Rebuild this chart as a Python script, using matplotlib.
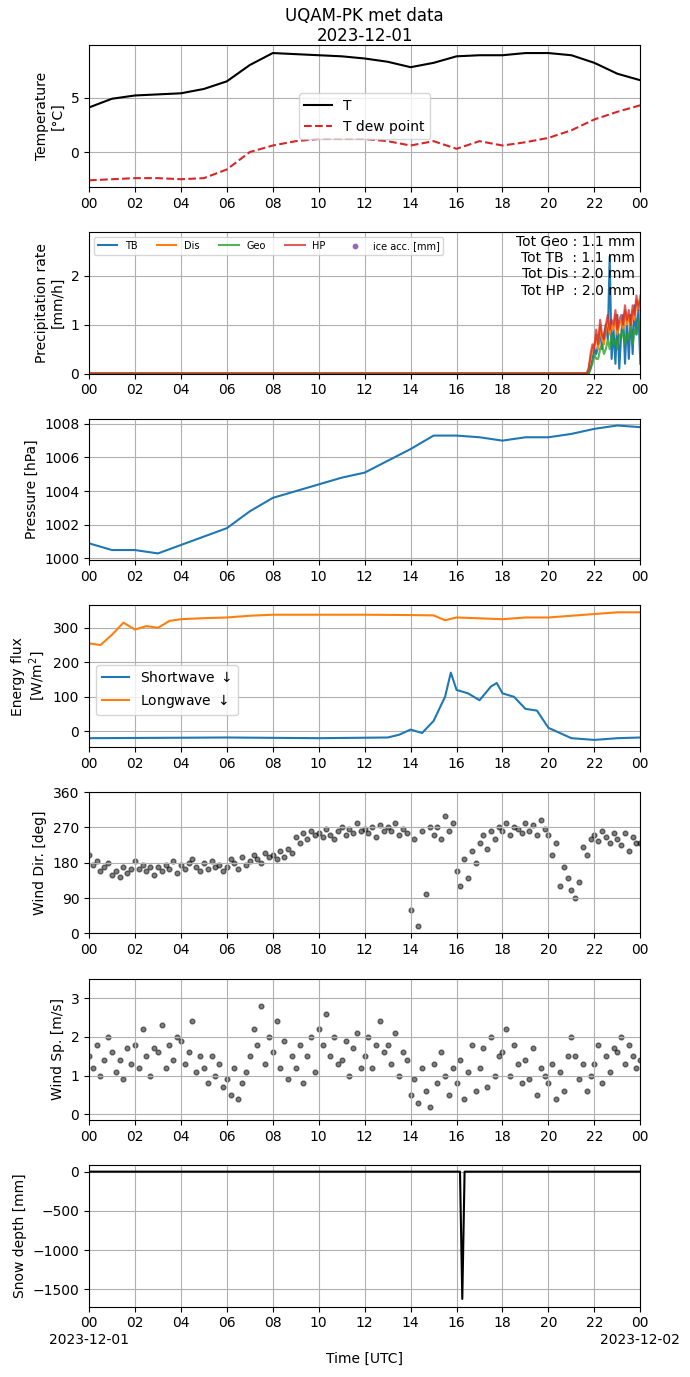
import matplotlib
matplotlib.use("Agg")
import matplotlib.pyplot as plt
import matplotlib.dates as mdates
import matplotlib.ticker as mticker
import numpy as np
from datetime import datetime, timedelta

t0 = datetime(2023, 12, 1)

# hourly temperature
temp_hours = list(range(25))
temp_T = [4.1, 4.9, 5.2, 5.3, 5.4, 5.8, 6.5, 8.0, 9.1, 9.0, 8.9, 8.8, 8.6, 8.3, 7.8, 8.2, 8.8, 8.9, 8.9, 9.1, 9.1, 8.9, 8.2, 7.2, 6.6]
temp_Td = [-2.6, -2.5, -2.4, -2.4, -2.5, -2.4, -1.6, 0.0, 0.6, 1.0, 1.2, 1.2, 1.2, 1.0, 0.6, 1.0, 0.3, 1.0, 0.6, 0.9, 1.3, 2.0, 3.0, 3.7, 4.3]

# precipitation, 5 min steps from 21:30
precip_start = 21.5
prec_TB = [0, 0, 0, 0, 0.1, 0.3, 0.5, 0.4, 0.6, 0.9, 0.5, 0.8, 1.0, 0.7, 2.4, 0.3, 0.9, 0.2, 1.2, 0.1, 0.8, 1.2, 0.2, 1.1, 0.3, 1.2, 0.4, 1.4, 0.8, 1.3, 0.2]
prec_Dis = [0, 0, 0, 0.1, 0.3, 0.5, 0.6, 0.8, 0.5, 1.0, 0.7, 0.6, 0.9, 1.1, 0.8, 1.0, 0.9, 1.2, 0.8, 1.0, 1.1, 0.9, 1.3, 1.0, 1.2, 0.9, 1.3, 1.1, 1.5, 1.4, 1.6]
prec_Geo = [0, 0, 0, 0, 0.1, 0.2, 0.4, 0.3, 0.3, 0.5, 0.6, 0.4, 0.5, 0.7, 0.5, 0.8, 0.6, 0.7, 0.5, 0.8, 0.7, 0.9, 0.6, 0.8, 0.7, 1.0, 0.6, 0.9, 0.8, 1.1, 0.9]
prec_HP = [0, 0, 0, 0.1, 0.4, 0.6, 0.5, 0.9, 0.6, 1.1, 0.8, 0.7, 1.0, 1.2, 0.9, 1.1, 1.0, 1.3, 0.9, 1.1, 1.2, 1.0, 1.4, 1.1, 1.3, 1.0, 1.4, 1.2, 1.6, 1.3, 1.5]
totals = ["Tot Geo : 1.1 mm", "Tot TB  : 1.1 mm", "Tot Dis : 2.0 mm", "Tot HP  : 2.0 mm"]

# pressure hourly
pres = [1000.9, 1000.5, 1000.5, 1000.3, 1000.8, 1001.3, 1001.8, 1002.8, 1003.6, 1004.0, 1004.4, 1004.8, 1005.1,
        1005.8, 1006.5, 1007.3, 1007.3, 1007.2, 1007.0, 1007.2, 1007.2, 1007.4, 1007.7, 1007.9, 1007.8]

# radiation
sw_hours = [0, 6, 10, 13, 13.5, 14, 14.5, 15, 15.5, 15.75, 16, 16.5, 17, 17.5, 17.75, 18, 18.5, 19, 19.5, 20, 21, 22, 23, 24]
sw_vals = [-20, -18, -20, -18, -10, 5, -5, 30, 100, 170, 120, 110, 90, 130, 140, 110, 100, 65, 60, 10, -20, -25, -20, -18]
lw_hours = [0, 0.5, 1, 1.5, 2, 2.5, 3, 3.5, 4, 5, 6, 7, 8, 10, 12, 14, 15, 15.5, 16, 18, 19, 20, 21, 22, 23, 24]
lw_vals = [255, 250, 280, 315, 295, 305, 300, 320, 325, 328, 330, 335, 338, 338, 338, 337, 336, 322, 330, 325, 330, 330, 335, 340, 345, 345]

# wind, 10 min steps
wind_dir = [200, 175, 185, 160, 170, 180, 150, 160, 145, 170, 155, 165, 185, 165, 175, 160, 170, 150,
            170, 160, 175, 165, 185, 155, 175, 165, 180, 190, 170, 160, 180, 165, 185, 170, 175, 160,
            170, 190, 180, 165, 195, 175, 185, 200, 190, 180, 205, 195, 200, 190, 210, 195, 215, 205,
            245, 230, 255, 240, 260, 250, 255, 245, 265, 250, 240, 260, 270, 250, 265, 255, 280, 260,
            265, 255, 270, 245, 275, 260, 270, 260, 280, 250, 265, 255, 60, 240, 20, 260, 100, 270,
            250, 270, 240, 300, 260, 280, 160, 120, 190, 140, 210, 180, 230, 250, 215, 260, 240, 270,
            260, 280, 250, 270, 265, 255, 280, 260, 275, 250, 290, 265, 250, 200, 230, 120, 170, 140,
            110, 90, 130, 220, 200, 240, 250, 235, 260, 245, 230, 255, 240, 225, 255, 210, 245, 230, 230]
wind_sp = [1.5, 1.2, 1.8, 1.0, 1.4, 2.0, 1.6, 1.1, 1.4, 0.9, 1.7, 1.3, 1.8, 1.2, 2.2, 1.5, 1.0, 1.7,
           1.6, 2.3, 1.2, 1.8, 1.4, 2.0, 1.9, 1.3, 1.6, 2.4, 1.1, 1.5, 1.2, 0.8, 1.5, 1.0, 1.3, 0.7,
           0.9, 0.5, 1.2, 0.4, 0.8, 1.1, 1.5, 2.2, 1.8, 2.8, 1.3, 2.0, 1.6, 2.4, 1.2, 1.9, 0.9, 1.5,
           1.2, 1.8, 0.8, 1.5, 2.0, 1.1, 2.2, 1.8, 2.6, 1.5, 2.0, 1.3, 1.4, 1.9, 1.0, 1.7, 2.1, 1.2,
           1.5, 2.0, 1.2, 1.8, 2.4, 1.6, 1.8, 1.3, 2.1, 1.0, 1.6, 1.4, 0.5, 0.9, 0.3, 1.2, 0.6, 0.2,
           1.3, 0.8, 1.6, 1.0, 0.5, 1.2, 0.8, 1.4, 0.4, 1.1, 1.8, 0.6, 1.2, 1.7, 0.7, 2.0, 1.0, 1.5,
           1.6, 2.2, 1.0, 1.8, 1.3, 0.8, 1.4, 0.9, 1.7, 0.5, 1.2, 1.0, 0.8, 1.3, 0.4, 1.1, 0.6, 1.5,
           2.0, 1.5, 0.9, 1.3, 0.6, 1.0, 1.3, 1.8, 0.8, 1.5, 1.1, 1.7, 1.6, 2.0, 1.3, 1.8, 1.5, 1.2, 1.4]

# snow depth
snow_hours = [0, 16.15, 16.25, 16.35, 24]
snow_vals = [0, 0, -1620, 0, 0]


def to_time(hours):
    return [t0 + timedelta(hours=h) for h in hours]


def step_time(start, step_min, n):
    return [t0 + timedelta(hours=start, minutes=step_min * i) for i in range(n)]


def hour_with_date(x, pos):
    d = mdates.num2date(x)
    if d.hour == 0:
        return d.strftime("%H\n%Y-%m-%d")
    return d.strftime("%H")


fig, axs = plt.subplots(7, 1, figsize=(6.9, 13.77), dpi=100)
fig.subplots_adjust(left=0.129, right=0.928, top=0.967, bottom=0.051, hspace=0.32)

ax = axs[0]
ax.plot(to_time(temp_hours), temp_T, color="k", label="T")
ax.plot(to_time(temp_hours), temp_Td, color="tab:red", ls="--", label="T dew point")
ax.set_ylabel("Temperature\n[°C]")
ax.set_ylim(-3.2, 9.8)
ax.legend(loc="center", bbox_to_anchor=(0.5, 0.5))
ax.set_title("UQAM-PK met data\n2023-12-01", pad=2)

ax = axs[1]
pt = step_time(precip_start, 5, len(prec_TB))
full = [t0] + [t0 + timedelta(hours=precip_start)]
ax.plot(full + pt, [0, 0] + prec_TB, color="tab:blue", label="TB")
ax.plot(full + pt, [0, 0] + prec_Dis, color="tab:orange", label="Dis")
ax.plot(full + pt, [0, 0] + prec_Geo, color="tab:green", alpha=0.8, label="Geo")
ax.plot(full + pt, [0, 0] + prec_HP, color="tab:red", alpha=0.75, label="HP")
ax.scatter([], [], s=10, color="tab:purple", label="ice acc. [mm]")
ax.set_ylabel("Precipitation rate\n[mm/h]")
ax.set_ylim(0, 2.9)
ax.legend(loc="upper left", ncol=5, fontsize=7)
ax.text(0.99, 0.98, "\n".join(totals), transform=ax.transAxes, ha="right", va="top", fontsize=10)

ax = axs[2]
ax.plot(to_time(temp_hours), pres, color="tab:blue")
ax.set_ylabel("Pressure [hPa]")
ax.set_ylim(999.9, 1008.3)

ax = axs[3]
ax.plot(to_time(sw_hours), sw_vals, color="tab:blue", label="Shortwave $\\downarrow$")
ax.plot(to_time(lw_hours), lw_vals, color="tab:orange", label="Longwave $\\downarrow$")
ax.set_ylabel("Energy flux\n[W/m$^2$]")
ax.set_ylim(-45, 365)
ax.legend(loc="center left", bbox_to_anchor=(0, 0.4))

ax = axs[4]
ax.scatter(step_time(0, 10, len(wind_dir)), wind_dir, s=12, color="k", alpha=0.5)
ax.set_ylabel("Wind Dir. [deg]")
ax.set_ylim(0, 360)
ax.set_yticks([0, 90, 180, 270, 360])

ax = axs[5]
ax.scatter(step_time(0, 10, len(wind_sp)), wind_sp, s=12, color="k", alpha=0.5)
ax.set_ylabel("Wind Sp. [m/s]")
ax.set_ylim(-0.15, 3.5)

ax = axs[6]
ax.plot(to_time(snow_hours), snow_vals, color="k")
ax.set_ylabel("Snow depth [mm]")
ax.set_ylim(-1720, 80)
ax.set_xlabel("Time [UTC]")

for ax in axs:
    ax.set_xlim(t0, t0 + timedelta(days=1))
    ax.xaxis.set_major_locator(mdates.HourLocator(byhour=range(0, 24, 2)))
    ax.xaxis.set_major_formatter(mdates.DateFormatter("%H"))
    ax.grid(True)
axs[6].xaxis.set_major_formatter(mticker.FuncFormatter(hour_with_date))

fig.savefig("out.png")
